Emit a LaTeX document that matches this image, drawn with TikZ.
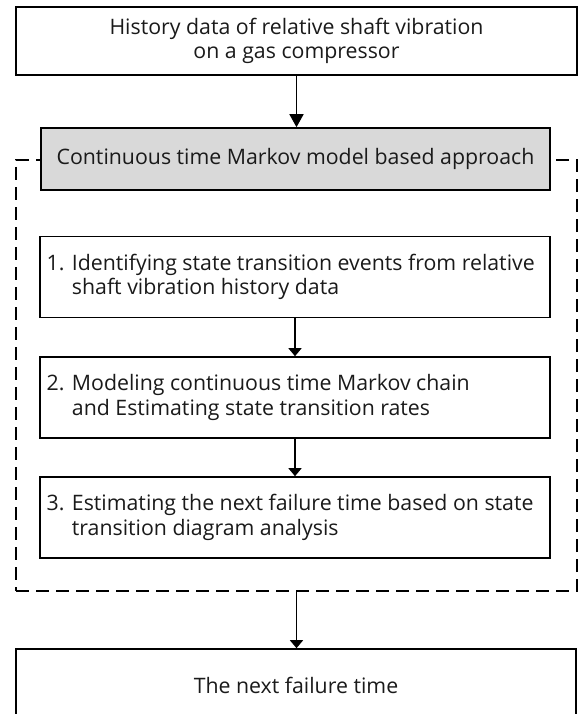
\documentclass[tikz,border=0pt]{standalone}
\usepackage{fontspec}
\setmainfont{Open Sans}
\usetikzlibrary{arrows.meta}
\definecolor{boxgray}{HTML}{D9D9D9}
\definecolor{inkc}{HTML}{1A1A1A}
\begin{document}
\begin{tikzpicture}[x=1pt,y=-1pt,
  font=\fontsize{21.3}{24.5}\selectfont, text=inkc,
  plainbox/.style={draw=black, line width=1.6pt, fill=white, inner sep=0pt, align=center},
  stepbox/.style={plainbox, minimum width=510pt, minimum height=81pt},
  steptext/.style={anchor=west, inner sep=0pt, align=left},
  frame/.style={draw=black, line width=2.8pt, dash pattern=on 13pt off 7pt, inner sep=0pt},
  bigarrow/.style={draw=black, line width=1.6pt, -{Triangle[width=14pt,length=13pt]}},
  smallarrow/.style={draw=black, line width=1.5pt, -{Triangle[width=13pt,length=8pt]}}
]
\useasboundingbox (0,0) rectangle (579,714);
\clip (0,0) rectangle (579,714);

% input data
\node[plainbox, minimum width=561pt, minimum height=68pt] (data) at (296.5,41)
  {History data of relative shaft vibration\\on a gas compressor};

% dashed frame around the approach
\node[frame, minimum width=561pt, minimum height=431pt] (frame) at (296.5,375.5) {};

% approach title
\node[plainbox, fill=boxgray, minimum width=509pt, minimum height=62pt] (approach) at (295.5,159)
  {Continuous time Markov model based approach};

% three steps
\node[stepbox] (s1) at (295,277) {};
\node[steptext] at (46.5,277) {1. Identifying state transition events from relative\\\phantom{1. }shaft vibration history data};

\node[stepbox] (s2) at (295,397.5) {};
\node[steptext] at (46.5,397.5) {2. Modeling continuous time Markov chain\\\phantom{2. }and Estimating state transition rates};

\node[stepbox] (s3) at (295,517.5) {};
\node[steptext] at (46.5,517.5) {3. Estimating the next failure time based on state\\\phantom{3. }transition diagram analysis};

% result (its lower edge runs past the page)
\node[plainbox, minimum width=560pt, minimum height=100pt] (result) at (296,699) {};
\node at (296,685) {The next failure time};

% connectors
\draw[bigarrow] (data.south) -- (data.south |- approach.north);
\draw[smallarrow] (s1.south) -- (s2.north);
\draw[smallarrow] (s2.south) -- (s3.north);
\draw[smallarrow] (frame.south) -- (frame.south |- result.north);
\end{tikzpicture}
\end{document}
